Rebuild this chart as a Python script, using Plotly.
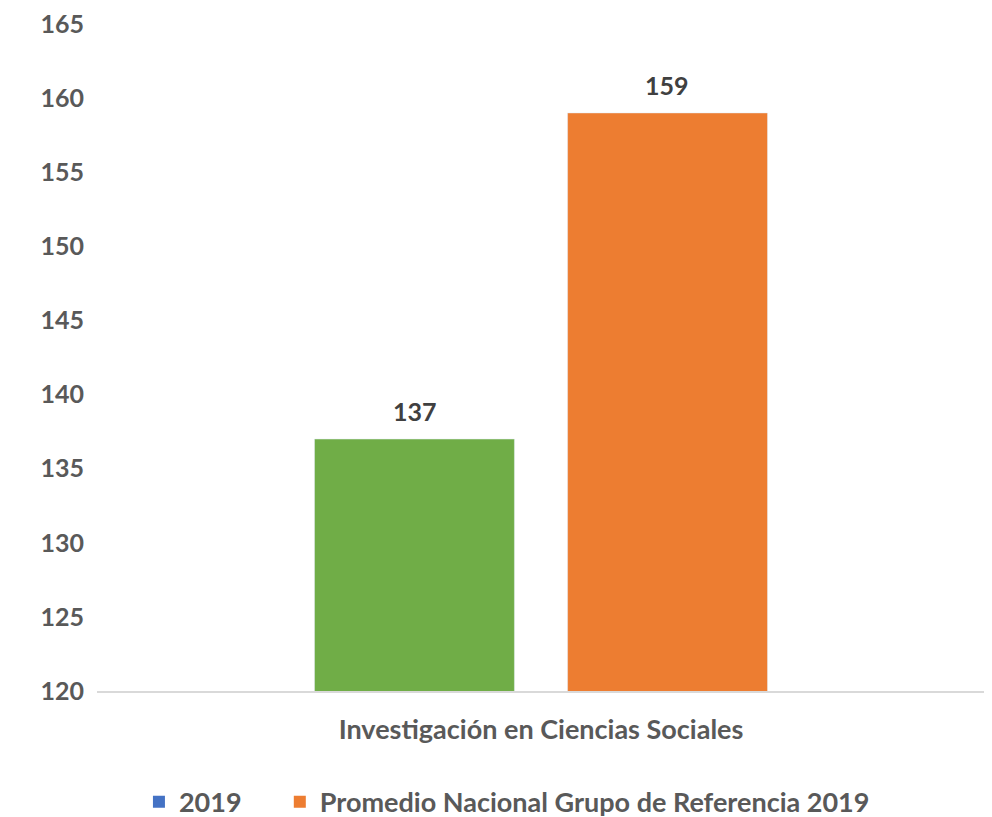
import plotly.graph_objects as go

categories = ["Investigación en Ciencias Sociales"]
series_names = ["2019", "Promedio Nacional Grupo de Referencia 2019"]
values_2019 = [137]
values_promedio = [159]
bar_colors = ["#70AD47", "#ED7D31"]
legend_colors = ["#4472C4", "#ED7D31"]
y_ticks = [120, 125, 130, 135, 140, 145, 150, 155, 160, 165]

FONT = "Lato"
TICK_SIZE = 25
TEXT_SIZE = 27
fig = go.Figure()
series_values = [values_2019, values_promedio]
label_shifts = [-126, 126]
for name, vals, col, sh in zip(series_names, series_values, bar_colors, label_shifts):
    fig.add_trace(go.Bar(x=categories, y=vals, name=name, marker_color=col,
                         showlegend=False))
    for c, v in zip(categories, vals):
        fig.add_annotation(x=c, y=v, text=str(v), showarrow=False, xshift=sh,
                           yanchor="bottom", yshift=11,
                           font=dict(family=FONT, size=TICK_SIZE, color="#404040",
                                     weight="bold"))
legend_ids = ["legend", "legend2"]
for name, col, lid in zip(series_names, legend_colors, legend_ids):
    fig.add_trace(go.Scatter(x=[None], y=[None], mode="markers", name=name,
                             legend=lid,
                             marker=dict(symbol="square", size=16, color=col)))

leg_font = dict(family=FONT, size=TEXT_SIZE, color="#595959", weight="bold")
fig.update_layout(
    width=992, height=817,
    paper_bgcolor="white", plot_bgcolor="white",
    margin=dict(l=89, r=15, t=16, b=134),
    barmode="group", bargap=0.43, bargroupgap=0.21,
    font=dict(family=FONT, size=TICK_SIZE, color="#595959"),
    showlegend=True,
    legend=dict(orientation="h", xref="container", yref="container",
                x=0.132, xanchor="left", y=0.028, yanchor="middle",
                font=leg_font, itemsizing="constant"),
    legend2=dict(orientation="h", xref="container", yref="container",
                 x=0.274, xanchor="left", y=0.028, yanchor="middle",
                 font=leg_font, itemsizing="constant"),
)
fig.update_yaxes(range=[120, 165.0001], tickvals=y_ticks, showgrid=False,
                 zeroline=False, showline=False, ticks="", automargin=False,
                 ticklabeloverflow="allow",
                 tickfont=dict(family=FONT, size=TICK_SIZE, color="#595959", weight="bold"),
                 ticklabelstandoff=12)
fig.update_xaxes(showgrid=False, showline=True, linecolor="#D9D9D9", linewidth=1.5,
                 ticks="", automargin=False,
                 tickfont=dict(family=FONT, size=TEXT_SIZE, color="#595959", weight="bold"),
                 ticklabelstandoff=14)
fig.write_html("out.html")
